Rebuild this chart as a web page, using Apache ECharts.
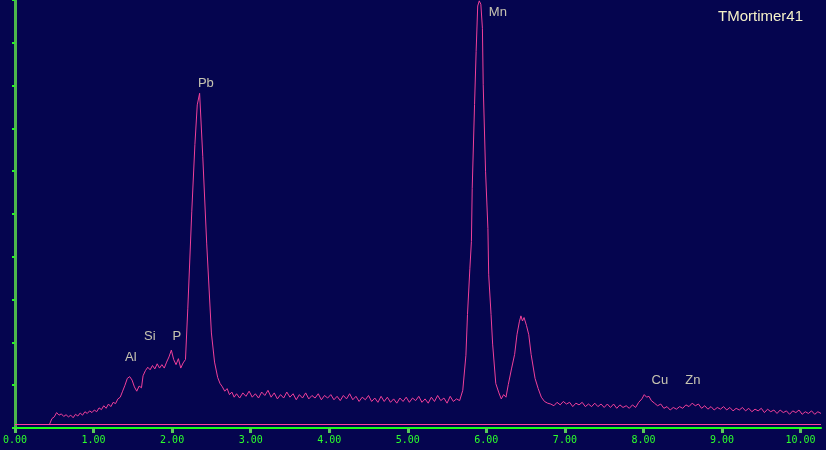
<!DOCTYPE html>
<html>
<head>
<meta charset="utf-8">
<title>EDS spectrum</title>
<script src="https://cdn.jsdelivr.net/npm/echarts@6/dist/echarts.min.js"></script>
<style>
  html, body { margin: 0; padding: 0; background: #05054f; }
  #chart { width: 826px; height: 450px; }
</style>
</head>
<body>
<div id="chart"></div>
<script>
'use strict';

// energy in keV, counts (full scale = 1000)
var energy = [
  0.44, 0.47, 0.50, 0.53, 0.56, 0.59, 0.62, 0.65, 0.68, 0.71, 0.74, 0.77, 0.80, 0.83, 0.86, 0.89,
  0.92, 0.95, 0.98, 1.01, 1.04, 1.07, 1.10, 1.13, 1.16, 1.19, 1.22, 1.25, 1.28, 1.31, 1.34, 1.37,
  1.40, 1.43, 1.46, 1.49, 1.52, 1.55, 1.58, 1.61, 1.63, 1.66, 1.69, 1.72, 1.75, 1.78, 1.81, 1.84,
  1.87, 1.90, 1.93, 1.96, 1.99, 2.02, 2.05, 2.08, 2.11, 2.14, 2.17, 2.20, 2.25, 2.29, 2.32, 2.35,
  2.37, 2.39, 2.44, 2.50, 2.54, 2.58, 2.61, 2.64, 2.67, 2.70, 2.73, 2.76, 2.79,
  2.82, 2.86, 2.90, 2.94, 2.98, 3.02, 3.06, 3.10, 3.14, 3.18, 3.22, 3.26, 3.30, 3.34, 3.38, 3.42,
  3.46, 3.50, 3.54, 3.58, 3.62, 3.66, 3.70, 3.74, 3.78, 3.82, 3.86, 3.90, 3.94, 3.98, 4.02, 4.06,
  4.10, 4.14, 4.18, 4.22, 4.26, 4.30, 4.34, 4.38, 4.42, 4.46, 4.50, 4.54, 4.58, 4.62, 4.66, 4.70,
  4.74, 4.78, 4.82, 4.86, 4.90, 4.94, 4.98, 5.02, 5.06, 5.10, 5.14, 5.18, 5.22, 5.26, 5.30, 5.34,
  5.38, 5.42, 5.46, 5.50, 5.54, 5.58, 5.62, 5.66, 5.70, 5.74, 5.76, 5.79, 5.81, 5.82, 5.85, 5.87, 5.89,
  5.91, 5.93, 5.95, 5.96, 5.99, 6.02, 6.03, 6.06, 6.08, 6.12, 6.16, 6.19, 6.22, 6.25, 6.28, 6.32,
  6.36, 6.39, 6.42, 6.44, 6.46, 6.48, 6.51, 6.54, 6.57, 6.62, 6.66, 6.70, 6.74, 6.78, 6.82,
  6.86, 6.90, 6.94, 6.98, 7.02, 7.06, 7.10, 7.14, 7.18, 7.22, 7.26, 7.30, 7.34, 7.38, 7.42,
  7.46, 7.50, 7.54, 7.58, 7.62, 7.66, 7.70, 7.74, 7.78, 7.82, 7.86, 7.90, 7.94, 7.98, 8.01, 8.04,
  8.07, 8.10, 8.14, 8.18, 8.22, 8.26, 8.30, 8.34, 8.38, 8.42, 8.46, 8.50, 8.54, 8.58, 8.62, 8.66,
  8.70, 8.74, 8.78, 8.82, 8.86, 8.90, 8.94, 8.98, 9.02, 9.06, 9.10, 9.14, 9.18, 9.22, 9.26, 9.30,
  9.34, 9.38, 9.42, 9.46, 9.50, 9.54, 9.58, 9.62, 9.66, 9.70, 9.74, 9.78, 9.82, 9.86, 9.90, 9.94,
  9.98, 10.02, 10.06, 10.10, 10.14, 10.18, 10.22, 10.26
];
var counts = [
  9, 22, 26, 36, 30, 33, 27, 31, 26, 30, 24, 32, 28, 35, 30, 38,
  34, 40, 36, 42, 38, 47, 43, 52, 46, 56, 50, 60, 57, 68, 72, 86,
  100, 116, 120, 112, 96, 86, 98, 94, 122, 134, 142, 136, 146, 138, 150, 140,
  148, 140, 154, 166, 182, 160, 148, 162, 140, 152, 160, 280, 505, 662, 755, 782,
  778, 635, 432, 222, 154, 118, 104, 96, 86, 92, 78, 84, 72,
  80, 70, 82, 74, 86, 72, 80, 70, 84, 76, 88, 72, 82, 68, 78, 70,
  84, 72, 80, 66, 78, 70, 82, 68, 76, 70, 80, 66, 76, 70, 78, 66,
  74, 64, 76, 68, 80, 66, 74, 62, 72, 66, 76, 62, 70, 60, 74, 62,
  72, 60, 68, 58, 70, 62, 72, 60, 70, 64, 74, 60, 68, 58, 72, 62,
  76, 64, 70, 58, 74, 62, 68, 64, 88, 170, 265, 372, 436, 560, 756, 880, 986,
  998, 990, 934, 803, 600, 466, 358, 265, 196, 104, 82, 68, 78, 72, 102, 138,
  172, 218, 248, 262, 250, 258, 240, 218, 172, 116, 92, 72, 62, 58, 56,
  52, 60, 54, 62, 56, 60, 50, 58, 54, 60, 50, 56, 50, 58, 50,
  56, 48, 56, 48, 56, 46, 54, 48, 52, 46, 54, 48, 60, 68, 78, 72,
  74, 64, 58, 52, 56, 46, 50, 42, 48, 44, 50, 46, 54, 50, 58, 52,
  56, 46, 52, 44, 50, 42, 48, 44, 50, 42, 48, 40, 46, 42, 48, 40,
  46, 38, 44, 40, 46, 36, 44, 38, 42, 34, 42, 36, 40, 32, 40, 36,
  42, 32, 38, 34, 40, 32, 38, 34
];

// element labels
var labelNames = ['Al', 'Si', 'P', 'Pb', 'Mn', 'Cu', 'Zn'];
var labelX = [1.475, 1.717, 2.061, 2.430, 6.147, 8.209, 8.629];
var labelY = [164, 215, 215, 804, 972, 110, 110];

var xTicks = [0, 1, 2, 3, 4, 5, 6, 7, 8, 9, 10];
var baseline = 9;

var spectrum = [];
for (var i = 0; i < energy.length; i++) {
  spectrum.push([energy[i], counts[i]]);
}
var labelData = [];
for (var j = 0; j < labelNames.length; j++) {
  labelData.push({ name: labelNames[j], value: [labelX[j], labelY[j]] });
}

var option = {
  backgroundColor: '#05054f',
  animation: false,
  title: {
    text: 'TMortimer41',
    right: 18,
    top: 4,
    textStyle: {
      color: '#f6f2c8',
      fontSize: 15,
      fontWeight: 'normal',
      fontFamily: 'Liberation Sans'
    }
  },
  grid: {
    left: 15,
    right: 5,
    top: 0,
    bottom: 22,
    outerBoundsMode: 'none'
  },
  xAxis: {
    type: 'value',
    min: 0,
    max: 10.26,
    interval: 1,
    axisLine: { show: true, lineStyle: { color: '#1cff1c', width: 2 } },
    axisTick: {
      show: true,
      customValues: xTicks,
      length: 5,
      lineStyle: { color: '#58c858', width: 3 }
    },
    axisLabel: {
      customValues: xTicks,
      color: '#2cff2c',
      fontFamily: 'DejaVu Sans Mono',
      fontSize: 10,
      margin: 7,
      formatter: function (v) { return v.toFixed(2); }
    },
    splitLine: { show: false }
  },
  yAxis: {
    type: 'value',
    min: 0,
    max: 1000,
    interval: 100,
    offset: 3,
    axisLine: { show: true, lineStyle: { color: '#4cb84c', width: 3 } },
    axisTick: { show: true, length: 3, lineStyle: { color: '#28f028', width: 2 } },
    axisLabel: { show: false },
    splitLine: { show: false }
  },
  series: [{
    name: 'spectrum',
    type: 'line',
    data: spectrum,
    showSymbol: false,
    symbol: 'none',
    lineStyle: { color: '#f0409a', width: 1 },
    markLine: {
      silent: true,
      symbol: 'none',
      label: { show: false },
      lineStyle: { color: '#ff3ca0', width: 1, type: 'solid' },
      data: [{ yAxis: baseline }]
    }
  }, {
    name: 'elements',
    type: 'scatter',
    data: labelData,
    symbolSize: 1,
    itemStyle: { color: 'rgba(0,0,0,0)' },
    label: {
      show: true,
      position: 'inside',
      formatter: function (p) { return p.name; },
      color: '#f6f2c8',
      fontSize: 13,
      fontFamily: 'Liberation Sans'
    }
  }]
};

var myChart = echarts.init(document.getElementById('chart'));
myChart.setOption(option);
</script>
</body>
</html>
